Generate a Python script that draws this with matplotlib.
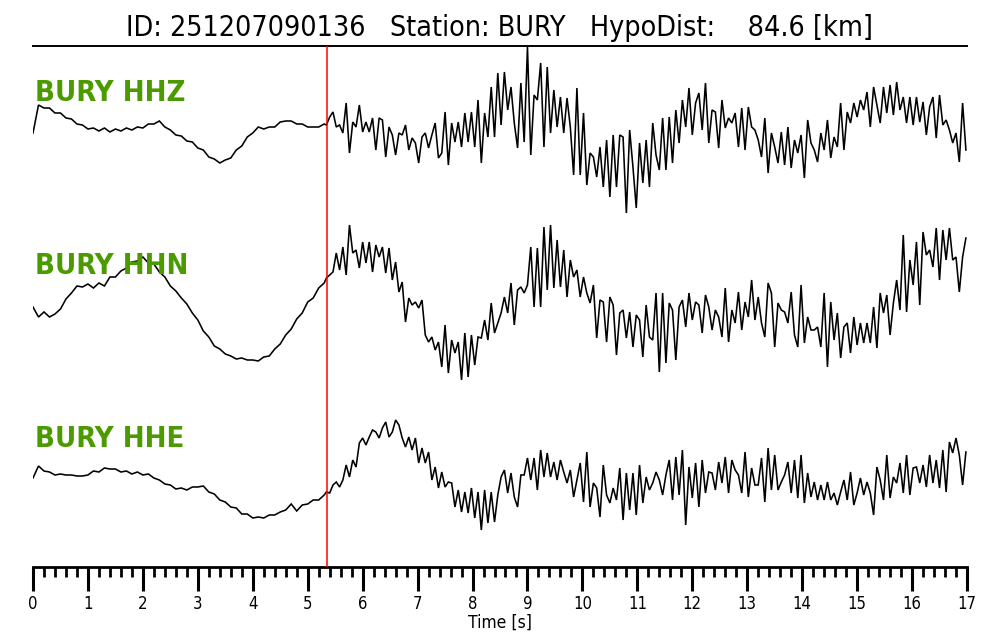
import numpy as np
import matplotlib
matplotlib.use("Agg")
import matplotlib.pyplot as plt
from matplotlib.ticker import MultipleLocator

plt.rcParams["font.family"] = ["DejaVu Sans"]
plt.rcParams["font.stretch"] = "condensed"

# ---------------- data ----------------
title = "ID: 251207090136   Station: BURY   HypoDist:    84.6 [km]"
channels = ["BURY HHZ", "BURY HHN", "BURY HHE"]
pick_time = 5.35          # P pick [s]
t_end = 17.0
dt_pre = 0.10             # sampling of the pre-pick window [s]
t_post0 = 5.34
dt_post = 0.06            # sampling of the post-pick window [s]

# relative amplitudes (arbitrary units)
hhz_pre = [-8, 20, 17, 17, 12, 12, 7, 6, 1, 0,
           -4, -3, -6, -3, -7, -4, -6, -3, -5, -2,
           -3, 1, 1, 4, -2, -5, -10, -11, -16, -17,
           -23, -25, -32, -34, -38, -35, -33, -25, -21, -12,
           -8, -2, -4, -2, -2, 3, 4, 4, 1, 1,
           -2, -2, -2, 1]
hhz_post = [0, 8, 13, -2, 0, -8, 22, -28, 3, -2,
            20, -7, 3, -7, 7, -25, 7, 5, -32, -2,
            -10, -30, -8, -10, 0, -25, -13, -18, -38, -12,
            -8, -23, -10, 2, -33, -28, 13, -40, 2, -17,
            3, -22, 12, -17, 13, -22, 25, -38, 12, -12,
            38, -12, 52, 0, 53, 15, 38, 2, -23, 42,
            -17, 78, -30, 30, 25, 62, -22, 58, -8, 35,
            -2, 28, -8, 27, -2, -50, 37, -50, 12, -60,
            -28, -32, -52, -22, -62, -15, -72, -10, -62, -10,
            -12, -88, -5, -42, -83, -18, -58, -15, -62, 2,
            -30, -45, 7, -45, 8, -38, 15, -18, 25, -2,
            37, -10, 22, 32, -5, 42, -18, 15, 13, -23,
            25, -3, 7, 2, 12, -22, 17, -25, 18, -2,
            -5, -15, -32, 7, -48, -8, -22, -38, -7, -40,
            -2, -43, -15, -28, -10, -53, 5, -18, -25, -37,
            -8, -25, 5, -33, -12, -22, 22, -25, 13, 2,
            22, 8, 25, 15, 33, -2, 38, 20, 2, 38,
            12, 40, 10, 43, 15, 28, 2, 28, 0, 28,
            3, 23, -10, 18, 28, -13, 30, 0, 5, -5,
            -18, -8, -37, 22, -25]

hhn_pre = [-7, -17, -12, -17, -14, -9, 1, 7, 14, 13,
           16, 12, 17, 14, 23, 23, 29, 32, 38, 39,
           43, 37, 36, 28, 23, 14, 9, 2, -4, -13,
           -20, -31, -37, -46, -49, -54, -56, -59, -58, -60,
           -60, -61, -57, -56, -49, -44, -35, -29, -19, -13,
           -2, 2, 12, 17]
hhn_post = [22, 25, 28, 47, 30, 53, 25, 75, 47, 50,
            32, 58, 37, 58, 28, 55, 43, 53, 27, 52,
            20, 38, 8, 18, -22, 2, -5, -2, -8, 0,
            -35, -42, -37, -50, -42, -67, -25, -73, -40, -53,
            -42, -80, -33, -77, -35, -65, -37, -38, -20, -40,
            -3, -33, -23, -13, 3, -13, 17, -25, 10, 13,
            7, 15, 53, -7, 52, -7, 73, 10, 75, 12,
            60, 13, 50, 3, 40, 23, 30, 3, 23, 7,
            -3, 15, -38, 0, -2, -42, 3, -5, -55, -13,
            -10, -38, -12, -47, -15, -20, -57, -5, -37, -40,
            7, -72, 7, -63, -3, -10, -60, -7, 0, -27,
            7, -20, -2, -5, -33, 5, -7, -30, -10, -17,
            -37, 12, -42, -10, -23, 8, -30, -2, -17, 20,
            -20, 3, -23, -37, 17, 7, -47, -3, -10, -12,
            -23, 8, -35, -47, 15, -43, -17, -30, -30, -27,
            -47, 7, -67, -2, -40, -13, -58, -27, -23, -53,
            -17, -45, -23, -43, -23, -43, -7, -48, 7, -13,
            5, -35, -3, 20, -10, 65, -12, 40, 15, 58,
            -5, 68, 45, 50, 33, 72, 20, 70, 40, 72,
            40, 43, 8, 43, 62]

hhe_pre = [-3, 9, 4, 3, 0, 1, 0, 0, -1, -1,
           0, 4, 3, 7, 6, 6, 3, 4, 1, 3,
           0, 1, -3, -5, -9, -10, -14, -13, -15, -12,
           -12, -11, -17, -19, -25, -27, -32, -33, -39, -39,
           -43, -42, -43, -40, -40, -37, -35, -29, -36, -30,
           -29, -25, -25, -20]
hhe_post = [-17, -18, -10, -7, -12, -5, 10, -2, 15, 8,
            32, 37, 30, 38, 45, 43, 37, 47, 53, 38,
            43, 55, 50, 37, 28, 38, 25, 37, 12, 27,
            12, 23, -5, 8, -13, 3, -12, -7, -8, -32,
            -15, -37, -17, -38, -13, -43, -17, -55, -15, -48,
            -17, -47, -20, -2, 5, -18, 2, -22, -32, 0,
            0, 17, -5, 17, -15, 25, -2, 22, -2, 13,
            -5, 15, 3, -8, 5, -22, -5, 12, -27, 23,
            -32, -8, -13, -42, 10, -20, -28, -13, -25, 7,
            -45, 2, -35, 2, -40, 10, -28, -2, -15, -8,
            3, -5, -20, 0, 15, -25, 18, -20, 25, -50,
            8, -23, 12, -32, 15, -18, 3, 2, -15, 13,
            -8, 18, -18, 15, 5, 0, -18, 23, -22, 7,
            -10, -10, 17, -27, 27, -15, 20, -15, -7, 0,
            13, -18, 15, -23, 20, -28, 2, -22, -7, -25,
            -10, -25, -7, -25, -18, -30, -17, -5, -25, 3,
            -30, -18, -3, -20, -7, -18, -40, 8, -5, -25,
            20, -23, -2, -8, 12, -18, 20, -20, 7, 8,
            -8, 10, -12, 20, -8, 15, -13, 25, -17, 33,
            22, 37, 20, -10, 23]

traces_pre = [hhz_pre, hhn_pre, hhe_pre]
traces_post = [hhz_post, hhn_post, hhe_post]

# ---------------- layout / style ----------------
offsets = [515, 340, 165]          # vertical placement of each trace
label_y = [539, 366, 193]
ylim = (73, 594)
label_color = "#4a9a00"

fig = plt.figure(figsize=(10, 6.4), dpi=100)
ax = fig.add_axes([0.033, 73 / 640, 0.934, (594 - 73) / 640])

for pre, post, off in zip(traces_pre, traces_post, offsets):
    t_pre = np.arange(len(pre)) * dt_pre
    t_post = t_post0 + np.arange(len(post)) * dt_post
    t = np.concatenate([t_pre, t_post])
    y = np.concatenate([pre, post]).astype(float) + off
    ax.plot(t, y, color="black", lw=1.15, solid_joinstyle="miter", zorder=2)

for name, ly in zip(channels, label_y):
    ax.text(0.03, ly, name, color=label_color, fontsize=21, fontweight="bold",
            ha="left", va="baseline", zorder=3)

ax.axvline(pick_time, color="red", lw=1.1, zorder=3)

ax.set_xlim(0, t_end)
ax.set_ylim(*ylim)
ax.spines["left"].set_visible(False)
ax.spines["right"].set_visible(False)
ax.spines["top"].set_linewidth(1.4)
ax.spines["bottom"].set_linewidth(2.0)
ax.set_yticks([])
ax.xaxis.set_major_locator(MultipleLocator(1))
ax.xaxis.set_minor_locator(MultipleLocator(0.2))
ax.tick_params(axis="x", which="major", direction="out", length=17, width=2.2,
               labelsize=12, pad=3)
ax.tick_params(axis="x", which="minor", direction="out", length=7.5, width=2.0)
ax.set_xlabel("Time [s]", fontsize=12.5, labelpad=0.5)

fig.text(0.5, 1 - 28 / 640, title, ha="center", va="center", fontsize=20.5)

fig.savefig("out.png", dpi=100)
